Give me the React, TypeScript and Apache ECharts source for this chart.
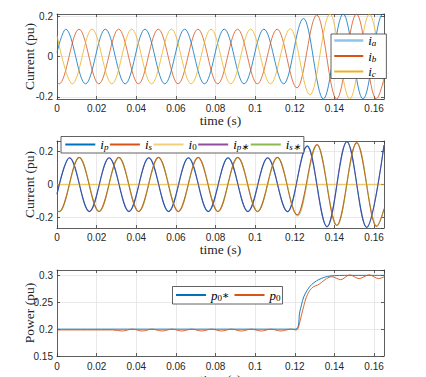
import React, { useEffect, useRef } from "react";
import * as echarts from "echarts";

// ---------- data (time s, value pu) ----------
// panel 1: three-phase currents (extrema)
const iA: number[][] = [[0,0.02],[0.0044,0.135],[0.0144,-0.135],[0.0244,0.135],[0.0344,-0.135],[0.0444,0.135],[0.0544,-0.135],[0.0644,0.135],[0.0744,-0.135],[0.0844,0.135],[0.0944,-0.135],[0.1044,0.135],[0.1144,-0.135],[0.1244,0.188],[0.1344,-0.21],[0.1444,0.21],[0.1544,-0.21],[0.1644,0.21],[0.165,0.209]];
const iB: number[][] = [[0,-0.127],[0.0011,-0.135],[0.0111,0.135],[0.0211,-0.135],[0.0311,0.135],[0.0411,-0.135],[0.0511,0.135],[0.0611,-0.135],[0.0711,0.135],[0.0811,-0.135],[0.0911,0.135],[0.1011,-0.135],[0.1111,0.135],[0.1211,-0.155],[0.1311,0.205],[0.1411,-0.21],[0.1511,0.21],[0.1611,-0.21],[0.165,-0.11]];
const iC: number[][] = [[0,0.104],[0.0077,-0.135],[0.0177,0.135],[0.0277,-0.135],[0.0377,0.135],[0.0477,-0.135],[0.0577,0.135],[0.0677,-0.135],[0.0777,0.135],[0.0877,-0.135],[0.0977,0.135],[0.1077,-0.135],[0.1177,0.137],[0.1277,-0.19],[0.1377,0.21],[0.1477,-0.21],[0.1577,0.21],[0.165,-0.14]];

// panel 2: transformed currents
const iP: number[][] = [[0,-0.06],[0.0063,0.163],[0.0163,-0.165],[0.0263,0.163],[0.0363,-0.165],[0.0463,0.163],[0.0563,-0.165],[0.0663,0.163],[0.0763,-0.165],[0.0863,0.163],[0.0963,-0.165],[0.1063,0.163],[0.1163,-0.165],[0.1263,0.235],[0.1363,-0.258],[0.1463,0.262],[0.1563,-0.262],[0.165,0.24]];
const iS: number[][] = [[0,-0.163],[0.0012,-0.165],[0.0112,0.165],[0.0212,-0.165],[0.0312,0.165],[0.0412,-0.165],[0.0512,0.165],[0.0612,-0.165],[0.0712,0.165],[0.0812,-0.165],[0.0912,0.165],[0.1012,-0.165],[0.1112,0.165],[0.1212,-0.185],[0.1312,0.243],[0.1412,-0.25],[0.1512,0.255],[0.1612,-0.255],[0.165,-0.15]];
const i0: number[][] = [[0,0],[0.165,0]];
const iPStar: number[][] = [[0,-0.055],[0.0064,0.162],[0.0164,-0.164],[0.0264,0.162],[0.0364,-0.164],[0.0464,0.162],[0.0564,-0.164],[0.0664,0.162],[0.0764,-0.164],[0.0864,0.162],[0.0964,-0.164],[0.1064,0.162],[0.1164,-0.166],[0.1262,0.232],[0.1362,-0.256],[0.1462,0.26],[0.1562,-0.26],[0.165,0.238]];
const iSStar: number[][] = [[0,-0.162],[0.0013,-0.164],[0.0113,0.164],[0.0213,-0.164],[0.0313,0.164],[0.0413,-0.164],[0.0513,0.164],[0.0613,-0.164],[0.0713,0.164],[0.0813,-0.164],[0.0913,0.164],[0.1013,-0.164],[0.1113,0.164],[0.1215,-0.192],[0.1313,0.241],[0.1413,-0.249],[0.1513,0.253],[0.1613,-0.253],[0.165,-0.145]];

// panel 3: power
const p0Ref: number[][] = [[0,0.2],[0.1205,0.2],[0.1225,0.232],[0.1245,0.26],[0.1265,0.274],[0.1285,0.283],[0.131,0.29],[0.1335,0.2945],[0.1365,0.298],[0.14,0.2995],[0.145,0.3],[0.165,0.3]];
const p0: number[][] = [[0,0.1985],[0.028,0.1985],[0.033,0.1965],[0.038,0.2],[0.043,0.1965],[0.048,0.2],[0.053,0.1965],[0.058,0.2],[0.063,0.1965],[0.068,0.2],[0.073,0.1965],[0.078,0.2],[0.083,0.1965],[0.088,0.2],[0.093,0.1965],[0.098,0.2],[0.103,0.1965],[0.108,0.2],[0.113,0.1965],[0.118,0.2],[0.1205,0.1985],[0.1215,0.2],[0.1235,0.228],[0.1255,0.256],[0.1275,0.272],[0.1295,0.279],[0.1315,0.282],[0.1335,0.287],[0.136,0.294],[0.1386,0.2975],[0.1432,0.292],[0.1477,0.301],[0.1524,0.294],[0.1575,0.301],[0.1622,0.294],[0.165,0.297]];

const T_MIN = 0;
const T_MAX = 0.165;
const T_STEP = 0.02;

// legend labels (rich text)
const LABELS: Record<string, string> = {
  ia: "{m|i}{s|a}",
  ib: "{m|i}{s|b}",
  ic: "{m|i}{s|c}",
  ip: "{m|i}{s|p}",
  is: "{m|i}{s|s}",
  i0: "{m|i}{d|0}",
  ips: "{m|i}{s|p∗}",
  iss: "{m|i}{s|s∗}",
  p0s: "{m|p}{d|0}{n|∗}",
  p0: "{m|p}{d|0}",
};

const BLUE = "#0072BD";
const RED = "#D95319";
const YELLOW = "#EDB120";
const PURPLE = "#7E2F8E";
const GREEN = "#77AC30";

const AX = "#3a3a3a";
const GRIDC = "#e3e3e3";
const labelFont = { fontFamily: "Liberation Sans, Arial, sans-serif", fontSize: 10, color: "#262626", lineHeight: 8 };
const nameFont = { fontFamily: "Liberation Serif, serif", fontSize: 13.5, color: "#262626", lineHeight: 11 };

const rich = {
  m: { fontFamily: "Liberation Serif, serif", fontStyle: "italic", fontSize: 13, color: "#000", lineHeight: 14 },
  s: { fontFamily: "Liberation Serif, serif", fontStyle: "italic", fontSize: 9, color: "#000", lineHeight: 3, verticalAlign: "bottom" },
  d: { fontFamily: "Liberation Serif, serif", fontSize: 9, color: "#000", lineHeight: 3, verticalAlign: "bottom" },
  n: { fontFamily: "DejaVu Serif, serif", fontSize: 11, color: "#000", lineHeight: 14 },
};

function xAxes(gi: number, labelMargin: number, nameGap: number) {
  const base = {
    type: "value",
    gridIndex: gi,
    min: T_MIN,
    max: T_MAX,
    interval: T_STEP,
    axisLine: { show: true, onZero: false, lineStyle: { color: AX, width: 0.8 } },
    axisTick: { show: true, inside: true, length: 3, lineStyle: { color: AX, width: 0.8 } },
  };
  return [
    {
      ...base,
      position: "bottom",
      name: "time (s)",
      nameLocation: "middle",
      nameGap,
      nameMoveOverlap: false,
      nameTextStyle: nameFont,
      axisLabel: { ...labelFont, margin: labelMargin, showMinLabel: true, showMaxLabel: false },
      splitLine: { show: true, lineStyle: { color: GRIDC, width: 0.8 } },
    },
    {
      ...base,
      position: "top",
      axisLabel: { show: false },
      splitLine: { show: false },
    },
  ];
}

function yAxes(gi: number, min: number, max: number, name: string, extra: any) {
  const base = {
    type: "value",
    gridIndex: gi,
    min,
    max,
    ...extra,
    axisLine: { show: true, onZero: false, lineStyle: { color: AX, width: 0.8 } },
    axisTick: { show: true, inside: true, length: 3, lineStyle: { color: AX, width: 0.8 } },
  };
  return [
    {
      ...base,
      position: "left",
      name,
      nameLocation: "middle",
      nameGap: 22,
      nameMoveOverlap: false,
      nameTextStyle: nameFont,
      axisLabel: { ...labelFont, margin: 4, showMinLabel: extra.interval ? true : false, showMaxLabel: false },
      splitLine: { show: true, lineStyle: { color: GRIDC, width: 0.8 } },
    },
    {
      ...base,
      position: "right",
      axisLabel: { show: false },
      splitLine: { show: false },
    },
  ];
}

function line(name: string, data: number[][], color: string, xi: number, yi: number, width: number, smooth: number, mono: boolean, extra: any = {}) {
  return {
    type: "line",
    name,
    data,
    xAxisIndex: xi,
    yAxisIndex: yi,
    symbol: "none",
    showSymbol: false,
    smooth,
    smoothMonotone: mono ? "x" : undefined,
    color,
    lineStyle: { color, width, ...extra },
    silent: true,
    emphasis: { disabled: true },
  };
}

function legendBase() {
  return {
    selectedMode: false,
    backgroundColor: "#ffffff",
    borderColor: "#3a3a3a",
    borderWidth: 0.8,
    borderRadius: 0,
    itemHeight: 14,
    itemStyle: { opacity: 0 },
    formatter: (n: string) => LABELS[n] || n,
    textStyle: { fontFamily: "Liberation Serif, serif", fontSize: 13, color: "#000", rich },
  };
}

const SM = 0.36;

const option: any = {
  animation: false,
  backgroundColor: "#ffffff",
  grid: [
    { left: 57, top: 14, width: 327, height: 85, outerBoundsMode: "none" },
    { left: 57, top: 141, width: 327, height: 87, outerBoundsMode: "none" },
    { left: 57, top: 270, width: 327, height: 86, outerBoundsMode: "none" },
  ],
  xAxis: [...xAxes(0, 5, 15.5), ...xAxes(1, 5, 15.5), ...xAxes(2, 6, 17.5)],
  yAxis: [
    ...yAxes(0, -0.21, 0.21, "Current (pu)", { splitNumber: 2 }),
    ...yAxes(1, -0.265, 0.265, "Current (pu)", { splitNumber: 3 }),
    ...yAxes(2, 0.15, 0.31, "Power (pu)", { interval: 0.05 }),
  ],
  legend: [
    {
      ...legendBase(),
      orient: "vertical",
      left: 331,
      top: 34,
      padding: [0, 10, 0, 2],
      itemWidth: 29,
      itemGap: 2,
      data: [
        { name: "ia", lineStyle: { color: "#8cc4ec", width: 2.5 } },
        { name: "ib" },
        { name: "ic" },
      ],
    },
    {
      ...legendBase(),
      orient: "horizontal",
      left: 61,
      top: 136.5,
      padding: [1.5, 3, 1.5, 3.3],
      itemWidth: 30,
      itemGap: 0.5,
      textStyle: { fontFamily: "Liberation Serif, serif", fontSize: 13, color: "#000", rich, width: 12 },
      data: ["ip", "is", "i0", "ips", "iss"],
    },
    {
      ...legendBase(),
      orient: "horizontal",
      left: 172.5,
      top: 286.5,
      padding: [2, 2, 2, 2.5],
      itemWidth: 30,
      itemGap: 4,
      data: ["p0s", "p0"],
    },
  ],
  series: [
    line("ia", iA, BLUE, 0, 0, 0.8, SM, true),
    line("ib", iB, RED, 0, 0, 0.8, SM, true),
    line("ic", iC, YELLOW, 0, 0, 0.8, SM, true),
    line("ip", iP, BLUE, 2, 2, 1.1, SM, true),
    line("is", iS, RED, 2, 2, 1.1, SM, true),
    line("i0", i0, YELLOW, 2, 2, 1.6, 0, false, { opacity: 0.6 }),
    line("ips", iPStar, PURPLE, 2, 2, 0.7, SM, true, { opacity: 0.85 }),
    line("iss", iSStar, GREEN, 2, 2, 0.7, SM, true, { opacity: 0.85 }),
    line("p0s", p0Ref, BLUE, 4, 4, 0.9, 0.3, false),
    line("p0", p0, RED, 4, 4, 0.9, 0.3, false),
  ],
};

export default function App() {
  const ref = useRef<HTMLDivElement>(null);
  useEffect(() => {
    if (!ref.current) return;
    const chart = echarts.init(ref.current, null, { renderer: "svg" });
    chart.setOption(option);
    return () => chart.dispose();
  }, []);
  return (
    <div
      ref={ref}
      style={{ position: "fixed", left: 0, top: 0, width: 426, height: 377, background: "#fff" }}
    />
  );
}
